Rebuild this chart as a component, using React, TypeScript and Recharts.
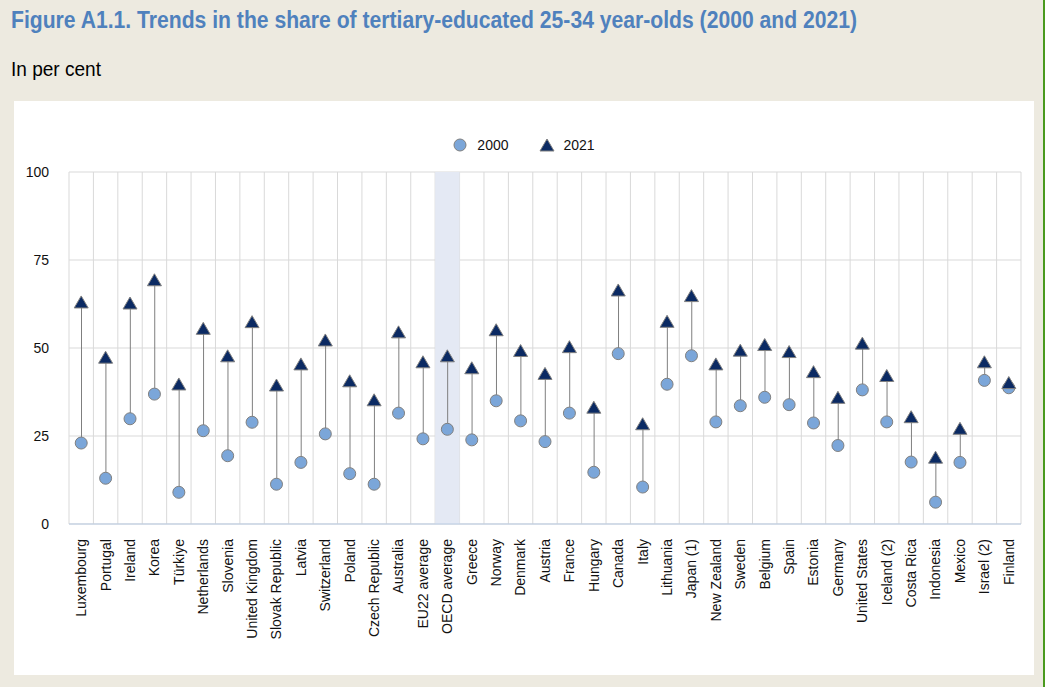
import React from 'react'
import {
  ComposedChart,
  Bar,
  Scatter,
  XAxis,
  YAxis,
  CartesianGrid,
  ReferenceArea,
  Legend
} from 'recharts'

const countries = [
  'Luxembourg', 'Portugal', 'Ireland', 'Korea', 'Türkiye', 'Netherlands', 'Slovenia',
  'United Kingdom', 'Slovak Republic', 'Latvia', 'Switzerland', 'Poland', 'Czech Republic',
  'Australia', 'EU22 average', 'OECD average', 'Greece', 'Norway', 'Denmark', 'Austria',
  'France', 'Hungary', 'Canada', 'Italy', 'Lithuania', 'Japan (1)', 'New Zealand', 'Sweden',
  'Belgium', 'Spain', 'Estonia', 'Germany', 'United States', 'Iceland (2)', 'Costa Rica',
  'Indonesia', 'Mexico', 'Israel (2)', 'Finland'
]

const share2000 = [
  23.0, 13.0, 29.9, 36.9, 9.0, 26.5, 19.4, 28.9, 11.3, 17.5, 25.6, 14.3, 11.3,
  31.5, 24.2, 26.9, 23.9, 35.0, 29.3, 23.4, 31.5, 14.7, 48.4, 10.5, 39.7, 47.8,
  29.0, 33.6, 36.0, 33.9, 28.7, 22.3, 38.1, 29.0, 17.6, 6.2, 17.5, 40.8, 38.7
]

const share2021 = [
  62.8, 47.1, 62.5, 69.1, 39.5, 55.3, 47.5, 57.2, 39.2, 45.2, 52.0, 40.4, 35.0,
  54.3, 45.8, 47.5, 44.1, 54.9, 49.0, 42.5, 50.1, 32.9, 66.2, 28.2, 57.3, 64.6,
  45.2, 49.1, 50.7, 48.7, 43.0, 35.7, 51.1, 41.9, 30.2, 18.7, 26.9, 45.8, 39.9
]

const yTicks = [0, 25, 50, 75, 100]
const highlighted = 'OECD average'

const FONT = "'Liberation Sans', Arial, sans-serif"
const CIRCLE_FILL = '#7BA6D9'
const TRI_FILL = '#0B2A63'
const MARKER_STROKE = '#808080'

const data = countries.map((country, i) => ({
  country,
  y2000: share2000[i],
  y2021: share2021[i]
}))

const CircleMark = (props: any) => {
  const { cx, cy } = props
  if (cx == null || cy == null) return null
  return <circle cx={cx} cy={cy} r={6} fill={CIRCLE_FILL} stroke={MARKER_STROKE} strokeWidth={1} />
}

const TriangleMark = (props: any) => {
  const { cx, cy } = props
  if (cx == null || cy == null) return null
  return (
    <polygon
      points={`${cx},${cy - 7} ${cx - 7},${cy + 5} ${cx + 7},${cy + 5}`}
      fill={TRI_FILL}
      stroke={MARKER_STROKE}
      strokeWidth={1}
    />
  )
}

const CountryTick = (props: any) => {
  const { x, y, payload } = props
  return (
    <text
      x={x}
      y={y + 7}
      transform={`rotate(-90, ${x}, ${y + 7})`}
      textAnchor="end"
      dy="0.35em"
      fontSize={14}
      fontFamily={FONT}
      fill="#111"
    >
      {payload.value}
    </text>
  )
}

const LegendBox = () => (
  <div
    style={{
      display: 'flex',
      justifyContent: 'center',
      alignItems: 'center',
      fontFamily: FONT,
      fontSize: 14,
      color: '#111',
      height: 20
    }}
  >
    <svg width={14} height={14}>
      <circle cx={7} cy={7} r={6} fill={CIRCLE_FILL} stroke={MARKER_STROKE} />
    </svg>
    <span style={{ marginLeft: 10 }}>2000</span>
    <svg width={16} height={14} style={{ marginLeft: 30 }}>
      <polygon points="8,1 1,13 15,13" fill={TRI_FILL} stroke={MARKER_STROKE} />
    </svg>
    <span style={{ marginLeft: 9 }}>2021</span>
  </div>
)

export default function App() {
  return (
    <div
      style={{
        position: 'fixed',
        left: 0,
        top: 0,
        width: 1045,
        height: 687,
        background: '#EDEAE0',
        overflow: 'hidden'
      }}
    >
      <svg width={1045} height={100} style={{ position: 'absolute', left: 0, top: 0 }}>
        <text
          x={11}
          y={28}
          fontFamily={FONT}
          fontWeight="bold"
          fontSize={23}
          fill="#4F81BD"
          textLength={846}
          lengthAdjust="spacingAndGlyphs"
        >
          Figure A1.1. Trends in the share of tertiary-educated 25-34 year-olds (2000 and 2021)
        </text>
        <text
          x={11}
          y={76}
          fontFamily={FONT}
          fontSize={21}
          fill="#000"
          textLength={90}
          lengthAdjust="spacingAndGlyphs"
        >
          In per cent
        </text>
      </svg>

      <div
        style={{
          position: 'absolute',
          left: 14,
          top: 101,
          width: 1020,
          height: 574,
          background: '#fff'
        }}
      >
        <ComposedChart
          width={1020}
          height={574}
          data={data}
          margin={{ top: 71, right: 13, bottom: 0, left: 0 }}
        >
          <CartesianGrid
            stroke="#D9D9D9"
            verticalCoordinatesGenerator={({ offset }: any) =>
              Array.from(
                { length: countries.length + 1 },
                (_, i) => offset.left + (i * offset.width) / countries.length
              )
            }
          />
          <ReferenceArea
            x1={highlighted}
            x2={highlighted}
            y1={0}
            y2={100}
            fill="#E4E9F4"
            fillOpacity={1}
            stroke="none"
          />
          <XAxis
            dataKey="country"
            type="category"
            interval={0}
            height={151}
            tickLine={false}
            axisLine={{ stroke: '#B9CBE3' }}
            tick={<CountryTick />}
          />
          <YAxis
            type="number"
            domain={[0, 100]}
            ticks={yTicks}
            width={55}
            axisLine={false}
            tickLine={false}
            tickSize={6}
            tickMargin={14}
            tick={{ fontSize: 14, fontFamily: FONT, fill: '#111' }}
          />
          <Legend
            verticalAlign="middle"
            align="center"
            layout="horizontal"
            wrapperStyle={{ top: 34, left: 0, width: 1020 }}
            content={<LegendBox />}
          />
          <Bar
            dataKey={(d: any) => [d.y2000, d.y2021]}
            barSize={1}
            fill="#7F7F7F"
            isAnimationActive={false}
            legendType="none"
          />
          <Scatter dataKey="y2000" name="2000" shape={<CircleMark />} isAnimationActive={false} />
          <Scatter dataKey="y2021" name="2021" shape={<TriangleMark />} isAnimationActive={false} />
        </ComposedChart>
      </div>

      <div
        style={{
          position: 'absolute',
          left: 1043,
          top: 0,
          width: 2,
          height: 687,
          background: '#4A9A1E'
        }}
      />
    </div>
  )
}
